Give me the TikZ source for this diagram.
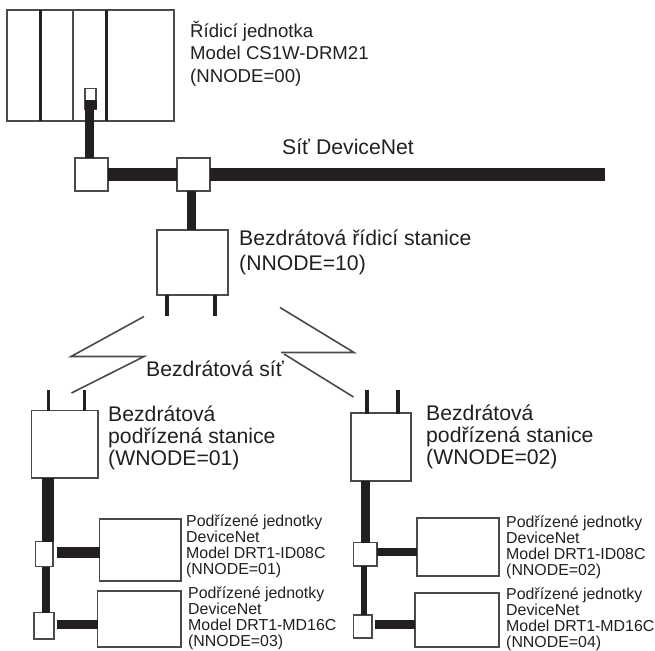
\documentclass[tikz,border=0pt]{standalone}
\usepackage{fontspec}
\setmainfont{Liberation Sans}
\usetikzlibrary{calc}
\definecolor{ink}{HTML}{231F20}
\definecolor{edge}{HTML}{4A4A4A}
\tikzset{
  x=1pt,y=-1pt,
  boxn/.style={draw=edge,line width=1.4pt,fill=white,inner sep=0pt,outer sep=0pt,anchor=north west},
  cable/.style={draw=ink,line width=#1,line cap=butt},
  radio/.style={draw=edge,line width=1.6pt},
  ant/.style={draw=ink,line width=3.6pt},
  bigt/.style={anchor=north west,inner sep=0pt,align=left,text=ink,font=\fontsize{21.2}{22}\selectfont},
  wst/.style={anchor=north west,inner sep=0pt,align=left,text=ink,font=\fontsize{21.2}{25}\selectfont},
  midt/.style={anchor=north west,inner sep=0pt,align=left,text=ink,font=\fontsize{18.6}{22.5}\selectfont},
  smallt/.style={anchor=north west,inner sep=0pt,align=left,text=ink,font=\fontsize{15.9}{15.7}\selectfont},
}
\newcommand{\bx}[5]{\node[boxn,minimum width=#4-#2,minimum height=#5-#3] (#1) at (#2,#3) {};}
\begin{document}
\begin{tikzpicture}
\useasboundingbox (0,0) rectangle (655,650);
% boxes
\bx{plc}{7}{10}{174}{121}
\bx{port}{85}{88.5}{96}{109}
\bx{tapa}{75}{158}{108}{191}
\bx{tapb}{177}{158}{210}{191}
\bx{master}{157}{230}{228}{295}
\bx{sla}{31.5}{410.5}{98}{478}
\bx{ta}{35.5}{541.5}{53}{566.5}
\bx{tb}{34}{612.5}{54}{639}
\bx{ua}{99.5}{519}{181}{581}
\bx{ub}{97.5}{591}{181}{647}
\bx{slb}{351}{413}{411}{481}
\bx{tc}{353.5}{542.5}{377}{566}
\bx{td}{353.5}{615}{372}{638}
\bx{uc}{417}{518}{499}{576}
\bx{ud}{415}{593}{499}{647}
% PLC dividers
\draw[draw=ink,line width=3.2pt] ($(plc.north)+(-50,0)$) -- ($(plc.south)+(-50,0)$);
\draw[draw=edge,line width=1.5pt] ($(plc.north)+(-17.5,0)$) -- ($(plc.south)+(-17.5,0)$);
\draw[draw=ink,line width=3.2pt] ($(plc.north)+(16,0)$) -- ($(plc.south)+(16,0)$);
\fill[ink] ($(port.south west)+(0,-9)$) rectangle ($(port.south east)+(0.5,0.5)$);
% bus and drops
\coordinate (busend) at (605,174.5);
\draw[cable=13pt] (tapa.east) -- (tapb.west);
\draw[cable=13pt] (tapb.east) -- (busend);
\draw[cable=9pt] ($(port.south)+(-1,-9)$) -- ($(tapa.north)+(-2,0)$);
\draw[cable=9pt] ($(tapb.south)+(-2,0)$) -- ($(master.north)+(-1,0)$);
% master antennas
\draw[ant] ($(master.south)+(-25.8,0)$) -- ($(master.south)+(-25.8,21)$);
\draw[ant] ($(master.south)+(22.2,0)$) -- ($(master.south)+(22.2,21)$);
% radio links
\coordinate (ra) at (144,316.5); \coordinate (rb) at (71,356.5);
\coordinate (rc) at (144,356.5); \coordinate (rd) at (71.5,393);
\coordinate (re) at (280,307.5); \coordinate (rf) at (354,352.5);
\coordinate (rg) at (281,352.5); \coordinate (rh) at (284,354);
\coordinate (ri) at (353.5,397);
\draw[radio] (ra) -- (rb) -- (rc) -- (rd);
\draw[radio] (re) -- (rf) -- (rg);
\draw[radio] (rh) -- (ri);
% left slave
\draw[ant] ($(sla.north)+(-16.25,0.5)$) -- ($(sla.north)+(-16.25,-20.5)$);
\draw[ant] ($(sla.north)+(19.75,0.5)$) -- ($(sla.north)+(19.75,-20.5)$);
\draw[cable=12.5pt] ($(sla.south)+(-16.75,0)$) -- ($(ta.north)+(3.75,0)$);
\draw[cable=8pt] ($(ta.south)+(1.75,0)$) -- ($(tb.north)+(2,0)$);
\draw[cable=11pt] ($(ta.east)+(4,-2)$) -- ($(ua.west)+(0,2)$);
\draw[cable=9pt] ($(tb.east)+(3,-1.25)$) -- ($(ub.west)+(0,5.5)$);
% right slave
\draw[ant] ($(slb.north)+(-14,1)$) -- ($(slb.north)+(-14,-23)$);
\draw[ant] ($(slb.north)+(17,1)$) -- ($(slb.north)+(17,-23)$);
\draw[cable=9pt] ($(slb.south)+(-15.5,0)$) -- ($(tc.north)+(0.25,0)$);
\draw[cable=6.5pt] ($(tc.south)+(-1.25,0)$) -- ($(td.north)+(1.25,0)$);
\draw[cable=8pt] ($(tc.east)+(0,-2.25)$) -- ($(uc.west)+(0,5)$);
\draw[cable=9pt] ($(td.east)+(3,-2)$) -- ($(ud.west)+(0,4.5)$);
% labels
\node[midt] (l1) at (190,21) {Řídicí jednotka\\Model CS1W-DRM21\\(NNODE=00)};
\node[bigt] (l2) at (282,139) {Síť DeviceNet};
\node[wst] (l3) at (239,230) {Bezdrátová řídicí stanice\\(NNODE=10)};
\node[bigt] (l4) at (146,361) {Bezdrátová síť};
\node[bigt] (l5) at (108,406) {Bezdrátová\\podřízená stanice\\(WNODE=01)};
\node[bigt] (l6) at (426,405) {Bezdrátová\\podřízená stanice\\(WNODE=02)};
\node[smallt] (l7) at (186,515) {Podřízené jednotky\\DeviceNet\\Model DRT1-ID08C\\(NNODE=01)};
\node[smallt] (l8) at (188,587) {Podřízené jednotky\\DeviceNet\\Model DRT1-MD16C\\(NNODE=03)};
\node[smallt] (l9) at (506,516) {Podřízené jednotky\\DeviceNet\\Model DRT1-ID08C\\(NNODE=02)};
\node[smallt] (l10) at (506,588) {Podřízené jednotky\\DeviceNet\\Model DRT1-MD16C\\(NNODE=04)};
\end{tikzpicture}
\end{document}
